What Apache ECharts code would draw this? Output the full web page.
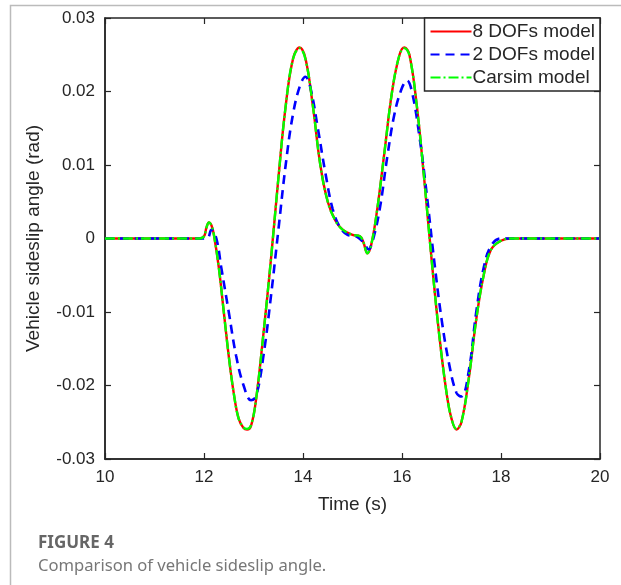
<!DOCTYPE html>
<html>
<head>
<meta charset="utf-8">
<script src="https://cdn.jsdelivr.net/npm/echarts@6/dist/echarts.min.js"></script>
<style>
  html, body { margin: 0; padding: 0; background: #fff; }
  #chart { width: 621px; height: 585px; }
</style>
</head>
<body>
<div id="chart"></div>
<script>
// time (s) and sideslip angle (rad)
var t8dof = [10, 11.9, 12.0, 12.05, 12.1, 12.15, 12.2, 12.3, 12.4, 12.5, 12.6, 12.7, 12.8, 12.87, 12.95, 13.05, 13.2, 13.35, 13.5, 13.65, 13.8, 13.93, 14.05, 14.2, 14.35, 14.5, 14.65, 14.8, 15.0, 15.15, 15.22, 15.3, 15.38, 15.5, 15.65, 15.8, 15.95, 16.05, 16.15, 16.3, 16.45, 16.6, 16.75, 16.9, 17.0, 17.1, 17.2, 17.35, 17.5, 17.65, 17.8, 18.0, 18.2, 20];
var v8dof = [0, 0, 0.0003, 0.0015, 0.0022, 0.0018, 0.0005, -0.004, -0.010, -0.016, -0.021, -0.0245, -0.0258, -0.026, -0.0255, -0.022, -0.013, -0.003, 0.008, 0.018, 0.0245, 0.026, 0.0245, 0.018, 0.010, 0.005, 0.0025, 0.0012, 0.0005, 0.0003, -0.0005, -0.002, -0.0008, 0.004, 0.012, 0.020, 0.025, 0.026, 0.025, 0.018, 0.008, -0.003, -0.013, -0.021, -0.0245, -0.026, -0.025, -0.019, -0.011, -0.005, -0.0015, -0.0003, 0, 0];

var t2dof = [10, 12.05, 12.15, 12.25, 12.35, 12.5, 12.65, 12.8, 12.95, 13.05, 13.2, 13.35, 13.5, 13.65, 13.8, 13.95, 14.05, 14.15, 14.3, 14.45, 14.6, 14.75, 14.9, 15.1, 15.25, 15.32, 15.4, 15.55, 15.7, 15.85, 16.0, 16.1, 16.2, 16.35, 16.5, 16.65, 16.8, 16.95, 17.1, 17.2, 17.35, 17.5, 17.65, 17.8, 18.0, 20];
var v2dof = [0, 0, 0.0012, 0, -0.004, -0.010, -0.016, -0.020, -0.022, -0.0215, -0.016, -0.008, 0.001, 0.010, 0.017, 0.021, 0.022, 0.0205, 0.015, 0.009, 0.004, 0.0015, 0.0005, 0.0002, -0.0008, -0.0015, -0.0005, 0.004, 0.011, 0.017, 0.0205, 0.0215, 0.020, 0.014, 0.006, -0.003, -0.011, -0.017, -0.021, -0.0215, -0.018, -0.010, -0.004, -0.001, 0, 0];

var tCarsim = [10, 11.9, 12.0, 12.05, 12.1, 12.15, 12.2, 12.3, 12.4, 12.5, 12.6, 12.7, 12.8, 12.87, 12.95, 13.05, 13.2, 13.35, 13.5, 13.65, 13.8, 13.93, 14.05, 14.2, 14.35, 14.5, 14.65, 14.8, 15.0, 15.15, 15.22, 15.3, 15.38, 15.5, 15.65, 15.8, 15.95, 16.05, 16.15, 16.3, 16.45, 16.6, 16.75, 16.9, 17.0, 17.1, 17.2, 17.35, 17.5, 17.65, 17.8, 18.0, 18.2, 20];
var vCarsim = [0, 0, 0.0003, 0.0015, 0.0022, 0.0018, 0.0005, -0.004, -0.010, -0.016, -0.021, -0.0245, -0.0257, -0.0259, -0.0254, -0.022, -0.013, -0.003, 0.008, 0.018, 0.0245, 0.0259, 0.0244, 0.018, 0.010, 0.005, 0.0025, 0.0012, 0.0005, 0.0003, -0.0005, -0.002, -0.0008, 0.004, 0.012, 0.020, 0.025, 0.0259, 0.0249, 0.018, 0.008, -0.003, -0.013, -0.021, -0.0245, -0.0259, -0.025, -0.019, -0.011, -0.005, -0.0015, -0.0003, 0, 0];

var xTicks = [10, 12, 14, 16, 18, 20];
var yTicks = [-0.03, -0.02, -0.01, 0, 0.01, 0.02, 0.03];

function pairs(t, v) {
  return t.map(function (x, i) { return [x, v[i]]; });
}

var font = "'Liberation Sans', Arial, sans-serif";
var chart = echarts.init(document.getElementById('chart'));

// box axes (top / right) just carry inward ticks like matlab
var tickStyle = { show: true, inside: true, length: 6, lineStyle: { color: '#262626', width: 1.2 } };

chart.setOption({
  animation: false,
  grid: {
    left: 105, right: 21, top: 18, bottom: 126,
    show: true, borderColor: '#262626', borderWidth: 1.5, backgroundColor: '#fff'
  },
  legend: {
    orient: 'vertical',
    right: 21, top: 18,
    itemWidth: 41, itemHeight: 14, itemGap: 4,
    padding: [4, 5, 4, 5],
    borderColor: '#262626', borderWidth: 1.5,
    backgroundColor: '#fff',
    itemStyle: { opacity: 0 },
    textStyle: { fontFamily: font, fontSize: 19, lineHeight: 19, color: '#262626', padding: [0, 0, 0, -4] },
    data: ['8 DOFs model', '2 DOFs model', 'Carsim model']
  },
  xAxis: [{
    type: 'value', min: 10, max: 20, interval: 2,
    name: 'Time (s)', nameLocation: 'middle', nameGap: 36,
    nameTextStyle: { fontFamily: font, fontSize: 19, color: '#262626' },
    axisLine: { show: true, onZero: false, lineStyle: { color: '#262626', width: 1.5 } },
    axisTick: tickStyle,
    axisLabel: { fontFamily: font, fontSize: 17, color: '#262626', margin: 10 },
    splitLine: { show: false }
  }, {
    type: 'value', min: 10, max: 20, interval: 2, position: 'top',
    axisLine: { show: false, onZero: false }, axisTick: tickStyle,
    axisLabel: { show: false }, splitLine: { show: false }
  }],
  yAxis: [{
    type: 'value', min: -0.03, max: 0.03, interval: 0.01,
    name: 'Vehicle sideslip angle (rad)', nameLocation: 'middle', nameGap: 62,
    nameTextStyle: { fontFamily: font, fontSize: 19, color: '#262626' },
    axisLine: { show: true, onZero: false, lineStyle: { color: '#262626', width: 1.5 } },
    axisTick: tickStyle,
    axisLabel: {
      fontFamily: font, fontSize: 17, color: '#262626', margin: 10,
      formatter: function (v) { return Math.abs(v) < 1e-9 ? '0' : String(+v.toFixed(2)); }
    },
    splitLine: { show: false }
  }, {
    type: 'value', min: -0.03, max: 0.03, interval: 0.01, position: 'right',
    axisLine: { show: false, onZero: false }, axisTick: tickStyle,
    axisLabel: { show: false }, splitLine: { show: false }
  }],
  series: [{
    name: '8 DOFs model', type: 'line', smooth: 0.4, symbol: 'none',
    data: pairs(t8dof, v8dof),
    lineStyle: { color: '#ff0000', width: 2.4 }, itemStyle: { color: '#ff0000' }
  }, {
    name: '2 DOFs model', type: 'line', smooth: 0.4, symbol: 'none',
    data: pairs(t2dof, v2dof),
    lineStyle: { color: '#0000ff', width: 2.6, type: [9, 6] }, itemStyle: { color: '#0000ff' }
  }, {
    name: 'Carsim model', type: 'line', smooth: 0.4, symbol: 'none',
    data: pairs(tCarsim, vCarsim),
    lineStyle: { color: '#00ff00', width: 2.4, type: [10, 3, 2, 3] }, itemStyle: { color: '#00ff00' }
  }],
  graphic: [{
    type: 'polyline',
    shape: { points: [[10.5, 585], [10.5, 5.5], [621, 5.5]] },
    style: { stroke: '#bbbbbb', lineWidth: 1.5, fill: null }
  }, {
    type: 'text', left: 38, top: 535,
    style: { text: 'FIGURE 4', fontFamily: 'Noto Sans, sans-serif', fontSize: 17, fontWeight: 'bold', fill: '#666666' }
  }, {
    type: 'text', left: 38, top: 558,
    style: { text: 'Comparison of vehicle sideslip angle.', fontFamily: 'Noto Sans, sans-serif', fontSize: 16.6, fill: '#777777' }
  }]
});
</script>
</body>
</html>
